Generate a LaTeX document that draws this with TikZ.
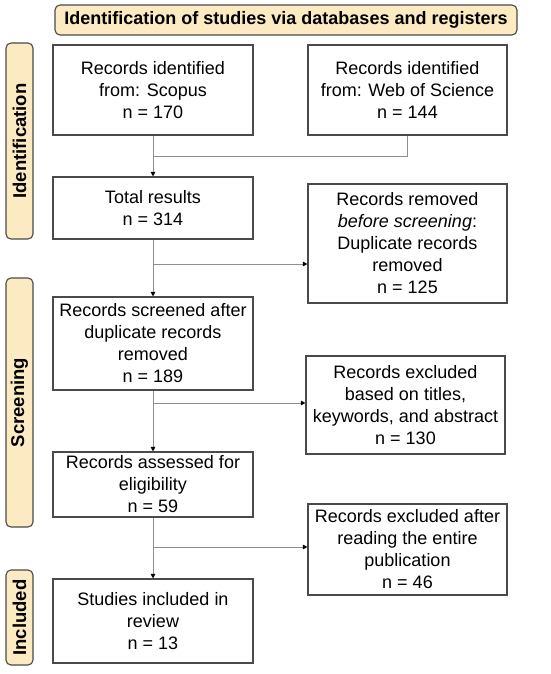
\documentclass[tikz,border=0pt]{standalone}
\usepackage{fontspec}
\setmainfont{Liberation Sans}
\usetikzlibrary{arrows.meta}
\definecolor{labfill}{HTML}{FCEBC2}
\definecolor{boxline}{HTML}{4A4A4A}
\definecolor{conn}{HTML}{8E8E8E}
\tikzset{
  boxnode/.style={draw=boxline, line width=1.1pt, fill=white, align=center,
    font=\fontsize{18}{22}\selectfont, inner sep=0pt},
  labnode/.style={draw=boxline, line width=1.1pt, fill=labfill, rounded corners=5pt,
    align=center, font=\fontsize{18}{22}\selectfont\bfseries, inner sep=0pt},
  sidenode/.style={labnode, rotate=90, font=\fontsize{18.5}{22}\selectfont\bfseries, minimum height=27pt},
  connline/.style={draw=conn, line width=0.9pt},
  arr/.style={connline, -{Triangle[length=4.5pt,width=4.5pt,color=black]}}
}
\begin{document}
\begin{tikzpicture}[x=1pt,y=-1pt]
\useasboundingbox (0,0) rectangle (550,674);
% header
\node[labnode, minimum width=462pt, minimum height=30pt] (head) at (286,20) {Identification of studies via databases and registers};
% side labels
\node[sidenode, minimum width=196pt] (lid) at (19.5,141) {Identification};
\node[sidenode, minimum width=249pt] (lsc) at (19.5,402.5) {Screening};
\node[sidenode, minimum width=95pt] (lin) at (19.5,617.5) {Included};
% boxes
\node[boxnode, minimum width=200pt, minimum height=90pt] (scopus) at (153,90) {Records identified\\from: Scopus\\n = 170};
\node[boxnode, minimum width=199pt, minimum height=90pt] (wos) at (407.5,90) {Records identified\\from: Web of Science\\n = 144};
\node[boxnode, minimum width=200pt, minimum height=62pt] (total) at (153,208) {Total results\\n = 314};
\node[boxnode, minimum width=199pt, minimum height=119pt] (removed) at (407.5,243.5) {Records removed\\\textit{before screening}:\\Duplicate records\\removed\\n = 125};
\node[boxnode, minimum width=200pt, minimum height=93pt] (screened) at (153,343.5) {Records screened after\\duplicate records\\removed\\n = 189};
\node[boxnode, minimum width=199pt, minimum height=98pt] (excl1) at (405.5,405) {Records excluded\\based on titles,\\keywords, and abstract\\n = 130};
\node[boxnode, minimum width=200pt, minimum height=65pt] (assessed) at (153,484.5) {Records assessed for\\eligibility\\n = 59};
\node[boxnode, minimum width=199pt, minimum height=91pt] (excl2) at (407.5,549.5) {Records excluded after\\reading the entire\\publication\\n = 46};
\node[boxnode, minimum width=200pt, minimum height=84pt] (included) at (153,621) {Studies included in\\review\\n = 13};
% connectors
\coordinate (j1) at (153,156);
\coordinate (b1) at (153,264);
\coordinate (b2) at (153,403);
\coordinate (b3) at (153,547);
\draw[connline] (wos.south) |- (j1);
\draw[arr] (scopus.south) -- (total.north);
\draw[arr] (total.south) -- (screened.north);
\draw[arr] (b1) -- (removed.west |- b1);
\draw[arr] (screened.south) -- (assessed.north);
\draw[arr] (b2) -- (excl1.west |- b2);
\draw[arr] (assessed.south) -- (included.north);
\draw[arr] (b3) -- (excl2.west |- b3);
\end{tikzpicture}
\end{document}
